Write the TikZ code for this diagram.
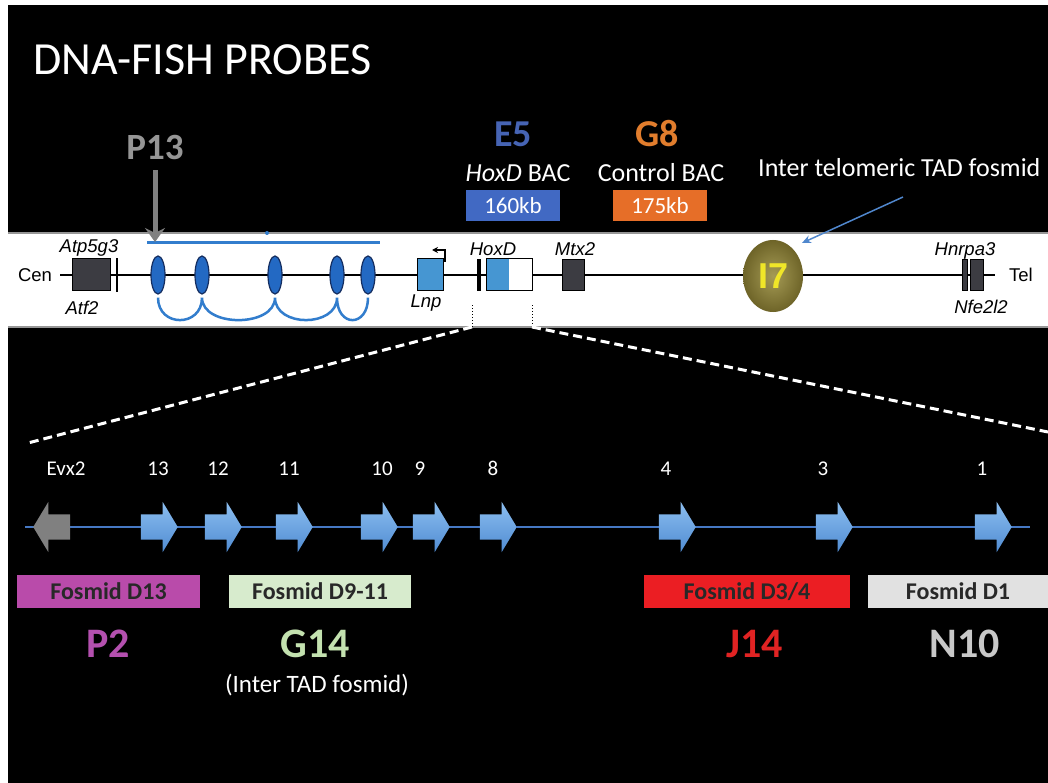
\documentclass[tikz,border=0pt]{standalone}
\usepackage{fontspec}
\setmainfont{Carlito}
\newfontfamily\arialfont{Liberation Sans}
\usetikzlibrary{arrows.meta,shapes.geometric,shapes.arrows}

\definecolor{genegray}{RGB}{60,60,66}
\definecolor{loopblue}{RGB}{35,105,195}
\definecolor{loopline}{RGB}{20,45,95}
\definecolor{arcblue}{RGB}{50,125,205}
\definecolor{lnpblue}{RGB}{70,150,210}
\definecolor{bandedge}{RGB}{150,150,150}
\definecolor{probegray}{RGB}{150,150,150}
\definecolor{e5blue}{RGB}{70,100,180}
\definecolor{e5box}{RGB}{65,105,195}
\definecolor{g8orange}{RGB}{225,125,45}
\definecolor{g8box}{RGB}{230,110,40}
\definecolor{itarrow}{RGB}{80,135,205}
\definecolor{i7inner}{RGB}{165,155,85}
\definecolor{i7outer}{RGB}{110,100,40}
\definecolor{i7yellow}{RGB}{240,230,40}
\definecolor{genetop}{RGB}{140,190,240}
\definecolor{genebot}{RGB}{80,140,210}
\definecolor{geneline}{RGB}{70,120,195}
\definecolor{evxgray}{RGB}{128,128,128}
\definecolor{p2col}{RGB}{180,80,175}
\definecolor{d13box}{RGB}{185,75,170}
\definecolor{g14col}{RGB}{195,225,175}
\definecolor{d911box}{RGB}{215,235,205}
\definecolor{j14col}{RGB}{225,35,35}
\definecolor{d34box}{RGB}{235,30,35}
\definecolor{n10col}{RGB}{200,200,200}
\definecolor{d1box}{RGB}{225,225,225}
\definecolor{fostext}{RGB}{40,40,40}

\newcommand{\fsz}[1]{\fontsize{#1}{#1}\selectfont}

\begin{document}
\begin{tikzpicture}[x=1pt,y=-1pt,
  txt/.style={inner sep=0pt, anchor=base, text=white},
  genelbl/.style={inner sep=0pt, anchor=base, font=\arialfont\itshape\fsz{18.5}},
  genebox/.style={draw, fill=genegray, inner sep=0pt},
  ctcfsite/.style={ellipse, draw=loopline, fill=loopblue, line width=1.2pt, minimum width=14pt, minimum height=38pt, inner sep=0pt},
  tadarc/.style={draw=arcblue, line width=2.5pt},
  genebase/.style={single arrow, draw=none, minimum height=37pt, inner xsep=0pt, inner ysep=12.5pt, single arrow head extend=12.5pt, single arrow tip angle=118, anchor=tip},
  genearrow/.style={genebase, top color=genetop, bottom color=genebot},
  evxarrow/.style={genebase, fill=evxgray, shape border rotate=180},
  numlbl/.style={txt, font=\fsz{21}},
  fosbox/.style={minimum height=33pt, inner sep=0pt, font=\bfseries\fsz{24}, text=fostext},
  bigid/.style={inner sep=0pt, anchor=base, font=\bfseries\fsz{42}},
  bacbox/.style={minimum width=94pt, minimum height=31pt, inner sep=0pt, text=white, font=\fsz{23}},
  zoomline/.style={white, line width=3pt, dash pattern=on 9pt off 5pt}
]
\useasboundingbox (0,0) rectangle (1048,783);
\fill[white] (0,0) rectangle (1048,783);
\fill[black] (8,5) rectangle (1048,783);

% title
\node (title) at (33,75) [txt, anchor=base west, font=\fsz{46}] {DNA-FISH PROBES};

% locus band
\fill[white] (8,233) rectangle (1048,327);
\draw[bandedge, line width=1.5pt] (8,233) -- (1048,233) (8,327) -- (1048,327);

\node (cen) at (35,275) [inner sep=0pt, font=\arialfont\fsz{18.5}] {Cen};
\node (tel) at (1021,275) [inner sep=0pt, font=\arialfont\fsz{18.5}] {Tel};
\coordinate (chrl) at (60,275);
\coordinate (chrr) at (995,275);
\draw[line width=2.5pt] (chrl) -- (chrr);

\node (atp) at (91,274.5) [genebox, minimum width=38pt, minimum height=32pt] {};
\node (atpbar) at (117,275) [fill=black, inner sep=0pt, minimum width=2pt, minimum height=34pt] {};
\node (atplbl) at (89,253) [genelbl] {Atp5g3};
\node (atflbl) at (82,314) [genelbl] {Atf2};

% TAD loops
\coordinate (tadl) at (147,243);
\coordinate (tadr) at (380,243);
\draw[arcblue, line width=3pt] (tadl) -- (tadr);
\node (tadmark) at (267,233) [circle, fill=arcblue, inner sep=0pt, minimum size=4pt] {};
\node (e1) at (158,275) [ctcfsite] {};
\node (e2) at (202,275) [ctcfsite] {};
\node (e3) at (275,275) [ctcfsite] {};
\node (e4) at (337,275) [ctcfsite] {};
\node (e5) at (368,275) [ctcfsite] {};
\draw[tadarc]
([yshift=-3pt]e1.south) to[out=-90,in=-90,distance=30pt] ([yshift=-3pt]e2.south)
([yshift=-3pt]e2.south) to[out=-90,in=-90,distance=30pt] ([yshift=-3pt]e3.south)
([yshift=-3pt]e3.south) to[out=-90,in=-90,distance=30pt] ([yshift=-3pt]e4.south)
([yshift=-3pt]e4.south) to[out=-90,in=-90,distance=30pt] ([yshift=-3pt]e5.south);

\node (p13) at (155,160) [bigid, text=probegray, font=\bfseries\fsz{37}] {P13};
\coordinate (p13tip) at (155,242);
\draw[evxgray, line width=5pt, shorten <=10pt, -{Stealth[length=14pt,width=20pt,inset=5pt]}] (p13) -- (p13tip);

% Lnp, HoxD, Mtx2
\node (lnp) at (430,274.5) [draw, fill=lnpblue, line width=1pt, inner sep=0pt, minimum width=26pt, minimum height=31pt] {};
\node (lnplbl) at (426,307) [genelbl] {Lnp};
\coordinate (prom) at (445,262);
\coordinate (promtip) at (432,250);
\draw[line width=1.2pt, -{Stealth[length=6pt,width=6pt]}] (prom) |- (promtip);
\node (hoxbar) at (479,275) [fill=black, inner sep=0pt, minimum width=4pt, minimum height=32pt] {};
\node (hoxd) at (509,274.5) [draw, fill=white, line width=1pt, inner sep=0pt, minimum width=46pt, minimum height=31pt,
  path picture={\fill[lnpblue] (path picture bounding box.north west) rectangle (path picture bounding box.south);}] {};
\node (hoxlbl) at (493,256) [genelbl] {HoxD};
\node (mtx) at (573,274.5) [genebox, minimum width=22pt, minimum height=31pt] {};
\node (mtxlbl) at (575,256) [genelbl] {Mtx2};

% I7
\node (i7) at (773,276) [ellipse, inner color=i7inner, outer color=i7outer, minimum width=60pt, minimum height=72pt, inner sep=0pt,
  text=i7yellow, font=\arialfont\bfseries\fsz{36}] {I7};
\node (itlbl) at (758,177) [txt, anchor=base west, font=\fsz{26}] {Inter telomeric TAD fosmid};
\coordinate (itfrom) at (903,197);
\coordinate (itto) at (802,243);
\draw[itarrow, line width=1.5pt, -{Stealth[length=9pt,width=8pt]}] (itfrom) -- (itto);

% Hnrpa3 / Nfe2l2
\node (hnr1) at (964.5,274.5) [genebox, minimum width=5pt, minimum height=31pt] {};
\node (hnr2) at (976.5,274.5) [genebox, minimum width=13pt, minimum height=31pt] {};
\node (hnrlbl) at (965,256) [genelbl] {Hnrpa3};
\node (nfelbl) at (981,313) [genelbl] {Nfe2l2};

% BAC probes
\node (e5id) at (513,147) [bigid, text=e5blue, font=\bfseries\fsz{38}] {E5};
\node (e5lbl) at (518,182) [txt, font=\fsz{26}] {\textit{HoxD} BAC};
\node (e5box) at (513,205.5) [bacbox, fill=e5box] {160kb};
\node (g8id) at (657,147) [bigid, text=g8orange, font=\bfseries\fsz{38}] {G8};
\node (g8lbl) at (661,182) [txt, font=\fsz{26}] {Control BAC};
\node (g8box) at (660,205.5) [bacbox, fill=g8box] {175kb};

% zoom lines
\coordinate (zl1) at (472,305);
\coordinate (zl2) at (472,327);
\coordinate (zr1) at (532,305);
\coordinate (zr2) at (532,327);
\draw[dotted, line width=1pt] (zl1) -- (zl2) (zr1) -- (zr2);
\coordinate (zoomL) at (28,443);
\coordinate (zoomR) at (1048,432);
\draw[zoomline] (zl2) -- (zoomL);
\draw[zoomline] (zr2) -- (zoomR);

% HoxD cluster
\coordinate (lstart) at (25,527);
\coordinate (lend) at (1030,527);
\draw[geneline, line width=1.5pt] (lstart) -- (lend);
\node (evx) at (33,527) [evxarrow] {};
\node (g13) at (178,527) [genearrow] {};
\node (g12) at (242,527) [genearrow] {};
\node (g11) at (313,527) [genearrow] {};
\node (g10) at (398,527) [genearrow] {};
\node (g9) at (450,527) [genearrow] {};
\node (g8) at (517,527) [genearrow] {};
\node (g4) at (696,527) [genearrow] {};
\node (g3) at (853,527) [genearrow] {};
\node (g1) at (1012,527) [genearrow] {};

\node (evxlbl) at (66,475) [numlbl] {Evx2};
\node (n13) at (158,475) [numlbl] {13};
\node (n12) at (218,475) [numlbl] {12};
\node (n11) at (289,475) [numlbl] {11};
\node (n10) at (382,475) [numlbl] {10};
\node (n9) at (420,475) [numlbl] {9};
\node (n8) at (493,475) [numlbl] {8};
\node (n4) at (666,475) [numlbl] {4};
\node (n3) at (823,475) [numlbl] {3};
\node (n1) at (982,475) [numlbl] {1};

% fosmids
\node (fd13) at (108.5,591.5) [fosbox, fill=d13box, minimum width=183pt] {Fosmid D13};
\node (fd911) at (320,591.5) [fosbox, fill=d911box, minimum width=182pt] {Fosmid D9-11};
\node (fd34) at (747,591.5) [fosbox, fill=d34box, minimum width=206pt] {Fosmid D3/4};
\node (fd1) at (958,591.5) [fosbox, fill=d1box, minimum width=180pt] {Fosmid D1};

\node (p2) at (108,657) [bigid, text=p2col] {P2};
\node (g14) at (315,657) [bigid, text=g14col] {G14};
\node (g14note) at (317,685) [inner sep=0pt, text=white, font=\fsz{25}] {(Inter TAD fosmid)};
\node (j14) at (755,657) [bigid, text=j14col] {J14};
\node (n10id) at (965,657) [bigid, text=n10col] {N10};
\end{tikzpicture}
\end{document}
